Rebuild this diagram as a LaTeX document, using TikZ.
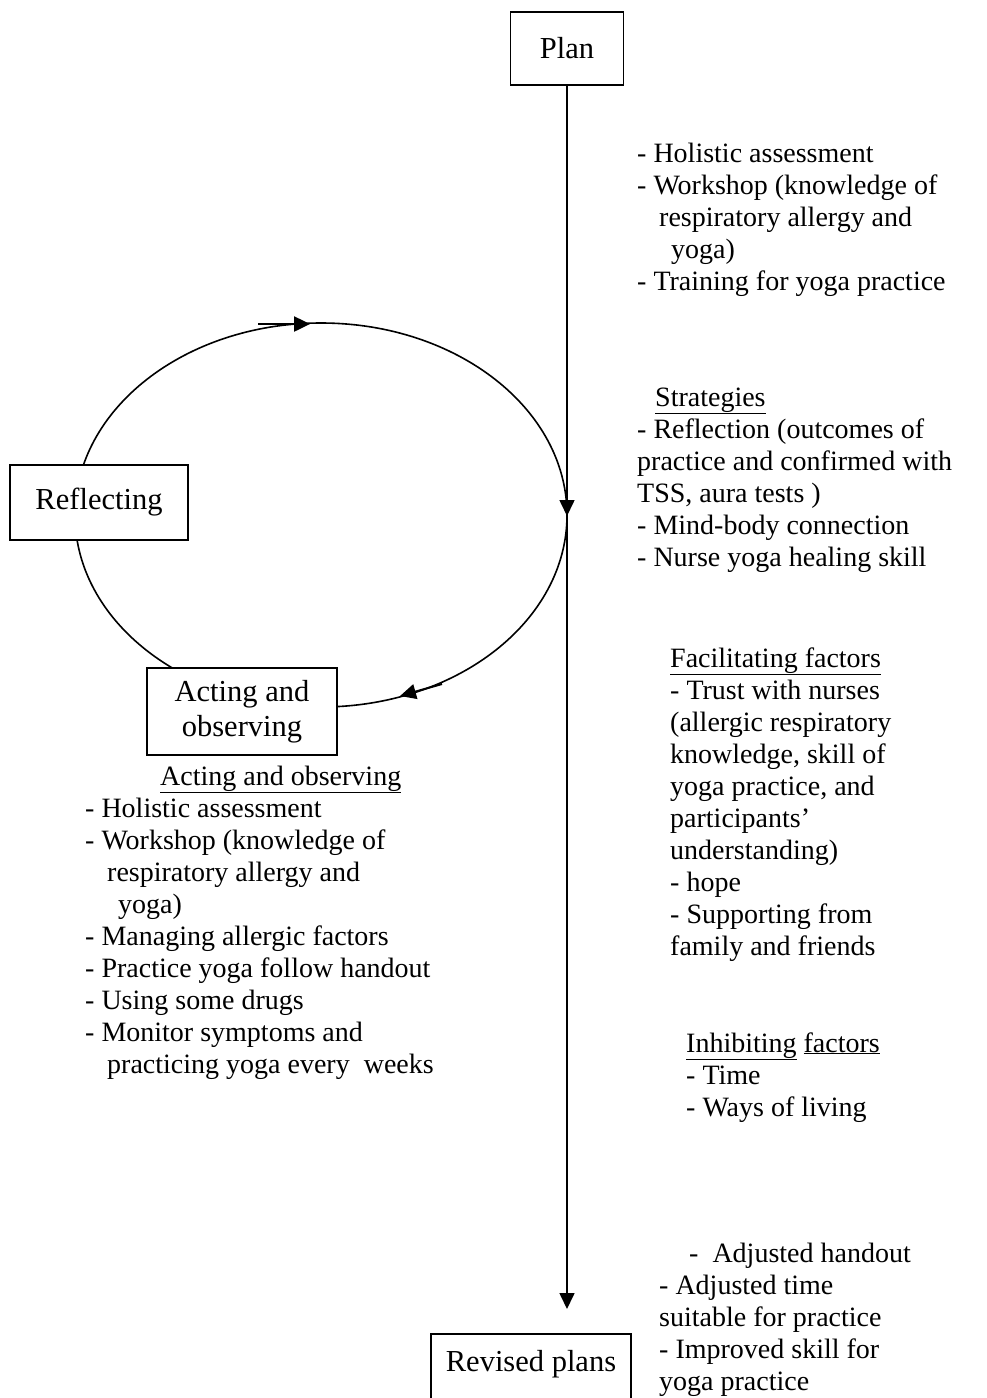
\documentclass[tikz,border=0pt]{standalone}
\usepackage{fontspec}
\setmainfont{Liberation Serif}
\usetikzlibrary{arrows.meta}
\newcommand{\uln}[1]{\underline{#1}}
\begin{document}
\begin{tikzpicture}[x=1pt,y=-1pt,
  every node/.style={font=\fontsize{28}{32}\selectfont},
  txt/.style={anchor=base west, inner sep=0pt},
  box/.style={draw, line width=1.6pt, fill=white, align=center, inner sep=0pt, font=\fontsize{30.5}{35}\selectfont},
  ln/.style={line width=1.6pt},
  tip/.style={-{Triangle[length=16pt,width=15pt]}}]
\useasboundingbox (0,0) rectangle (986,1398);
% cycle
\draw[ln] (321,515) ellipse [x radius=246pt, y radius=192pt];
\coordinate (t1) at (258,324); \coordinate (t2) at (310,324);
\draw[tip, line width=2.5pt] (t1) -- (t2);
\coordinate (u1) at (442,684); \coordinate (u2) at (400,696);
\draw[tip, line width=2pt] (u1) -- (u2);
\coordinate (m1) at (567,498); \coordinate (m2) at (567,516);
\draw[tip, ln] (m1) -- (m2);
% boxes
\node[box, minimum width=113pt, minimum height=73pt] (plan) at (567,48.5) {Plan};
\node[box, minimum width=178pt, minimum height=75pt] (refl) at (99,502.5) {Reflecting};
\node[box, minimum width=190pt, minimum height=87pt] (act) at (242,711.5) {Acting and\\observing};
\node[box, minimum width=200pt, text height=38pt, text depth=50pt, anchor=north] (rev) at (531,1333) {Revised plans};
% main line
\coordinate (end) at (567,1309);
\draw[ln, tip] (plan.south) -- (end);
% text blocks
\foreach \x/\t [count=\i from 0] in {637/{- Holistic assessment}, 637/{- Workshop (knowledge of}, 659/{respiratory allergy and}, 671/{yoga)}, 637/{- Training for yoga practice}}
  \node[txt] (a\i) at (\x,{162+32*\i}) {\t};
\foreach \x/\t [count=\i from 0] in {655/{\uln{Strategies}}, 637/{- Reflection (outcomes of}, 637/{practice and confirmed with}, 637/{TSS, aura tests )}, 637/{- Mind-body connection}, 637/{- Nurse yoga healing skill}}
  \node[txt] (b\i) at (\x,{406+32*\i}) {\t};
\foreach \x/\t [count=\i from 0] in {670/{\uln{Facilitating factors}}, 670/{- Trust with nurses}, 670/{(allergic respiratory}, 670/{knowledge, skill of}, 670/{yoga practice, and}, 670/{participants’}, 670/{understanding)}, 670/{- hope}, 670/{- Supporting from}, 670/{family and friends}}
  \node[txt] (c\i) at (\x,{667+32*\i}) {\t};
\foreach \x/\t [count=\i from 0] in {686/{\uln{Inhibiting} \uln{factors}}, 686/{- Time}, 686/{- Ways of living}}
  \node[txt] (d\i) at (\x,{1052+32*\i}) {\t};
\foreach \x/\t [count=\i from 0] in {689/{-~ Adjusted handout}, 659/{- Adjusted time}, 659/{suitable for practice}, 659/{- Improved skill for}, 659/{yoga practice}}
  \node[txt] (e\i) at (\x,{1262+32*\i}) {\t};
\foreach \x/\t [count=\i from 0] in {160/{\uln{Acting and observing}}, 85/{- Holistic assessment}, 85/{- Workshop (knowledge of}, 107/{respiratory allergy and}, 118/{yoga)}, 85/{- Managing allergic factors}, 85/{- Practice yoga follow handout}, 85/{- Using some drugs}, 85/{- Monitor symptoms and}, 107/{practicing yoga every~ weeks}}
  \node[txt] (f\i) at (\x,{785+32*\i}) {\t};
\end{tikzpicture}
\end{document}
